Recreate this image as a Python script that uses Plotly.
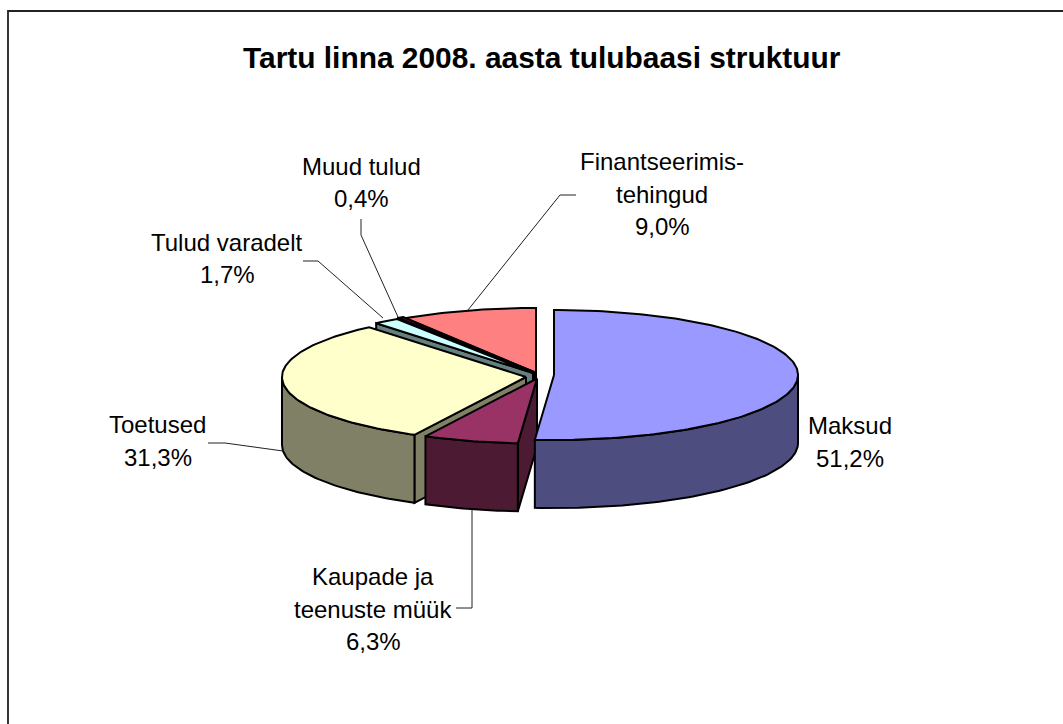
import math
import plotly.graph_objects as go

categories = ["Maksud", "Kaupade ja teenuste müük", "Toetused", "Tulud varadelt", "Muud tulud", "Finantseerimis-tehingud"]
values = [51.2, 6.3, 31.3, 1.7, 0.4, 9.0]
value_labels = ["51,2%", "6,3%", "31,3%", "1,7%", "0,4%", "9,0%"]
label_lines = [["Maksud"], ["Kaupade ja", "teenuste müük"], ["Toetused"], ["Tulud varadelt"], ["Muud tulud"], ["Finantseerimis-", "tehingud"]]
top_colors = ["#9999FF", "#993366", "#FFFFCC", "#CCFFFF", "#660066", "#FF8080"]
side_colors = ["#4D4D80", "#4D1A33", "#808066", "#668080", "#330033", "#804040"]
centers = [(554, 375), (537, 378.5), (526, 377), (533, 373), (534, 372), (536, 373)]
label_xy = [(850, 442), (373, 609), (157.5, 441), (227, 258.5), (361.5, 182.5), (662, 194)]
leaders = [None,
           [(472, 510), (472, 608), (456, 608)],
           [(283, 451), (225, 443), (208, 443)],
           [(383, 318), (318, 261), (303, 261)],
           [(398, 317), (361, 235), (361, 219)],
           [(468, 310), (560, 195), (576, 195)]]
RX, RY, DEPTH = 244, 65, 68
OUTLINE = 2
TEXT_SIZE = 24
LINE_H = 32.7

total = sum(values)
bounds = [0.0]
for v in values:
    bounds.append(bounds[-1] + v / total * 2 * math.pi)


def pt(i, t, drop=0):
    cx, cy = centers[i]
    return cx + RX * math.sin(t), cy - RY * math.cos(t) + drop


def arc(i, a, b, drop=0):
    n = max(2, int((b - a) / 0.02))
    return [pt(i, a + (b - a) * k / n, drop) for k in range(n + 1)]


fig = go.Figure()


def poly(points, color):
    xs = [p[0] for p in points] + [points[0][0]]
    ys = [p[1] for p in points] + [points[0][1]]
    fig.add_trace(go.Scatter(x=xs, y=ys, mode="lines", fill="toself", fillcolor=color,
                             line=dict(color="black", width=OUTLINE), hoverinfo="skip", showlegend=False))


def wedge(i):
    a, b = bounds[i], bounds[i + 1]
    c = centers[i]
    # the cut face that can be seen from the front
    if i != 0:
        e = pt(i, a)
        poly([c, e, (e[0], e[1] + DEPTH), (c[0], c[1] + DEPTH)], side_colors[i])
    # outer rim, the part that faces front
    lo, hi = max(a, math.pi / 2), min(b, 3 * math.pi / 2)
    if hi > lo:
        poly(arc(i, lo, hi) + arc(i, lo, hi, DEPTH)[::-1], side_colors[i])
    poly([c] + arc(i, a, b), top_colors[i])


for i in [5, 4, 3, 2, 1, 0]:
    wedge(i)

for seg in leaders:
    if seg:
        fig.add_trace(go.Scatter(x=[p[0] for p in seg], y=[p[1] for p in seg], mode="lines",
                                 line=dict(color="#222222", width=1), hoverinfo="skip", showlegend=False))

annotations = [dict(x=541.5, y=57, text="<b>Tartu linna 2008. aasta tulubaasi struktuur</b>", showarrow=False,
                    font=dict(family="Liberation Sans, Arial", size=29.9, color="black"),
                    xanchor="center", yanchor="middle")]
for lines, val, (x, y) in zip(label_lines, value_labels, label_xy):
    rows = lines + [val]
    for k, row in enumerate(rows):
        annotations.append(dict(x=x, y=y + (k - (len(rows) - 1) / 2) * LINE_H, text=row, showarrow=False,
                                font=dict(family="Liberation Sans, Arial", size=TEXT_SIZE, color="black"),
                                xanchor="center", yanchor="middle"))

fig.update_layout(
    width=1063, height=724, margin=dict(l=0, r=0, t=0, b=0),
    paper_bgcolor="white", plot_bgcolor="white", showlegend=False,
    xaxis=dict(range=[0, 1063], visible=False, fixedrange=True),
    yaxis=dict(range=[724, 0], visible=False, fixedrange=True),
    annotations=annotations,
    shapes=[dict(type="rect", x0=8, y0=11, x1=1100, y1=800, line=dict(color="#222222", width=1.8), layer="below")],
)
fig.write_html("out.html", config={"displayModeBar": False},
               post_script="document.body.style.margin='0';document.body.style.overflow='hidden';")
